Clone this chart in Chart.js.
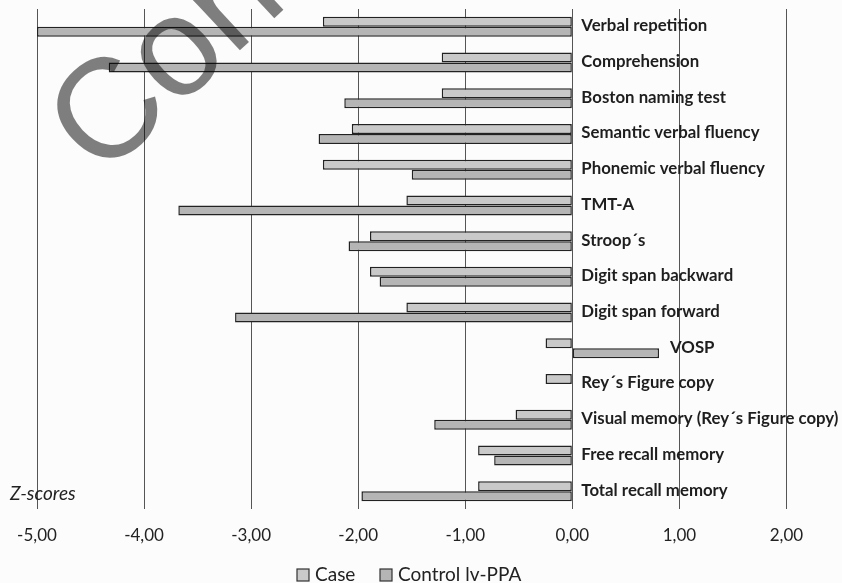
<!DOCTYPE html>
<html>
<head>
<meta charset="utf-8">
<script src="https://cdn.jsdelivr.net/npm/chart.js@4.4.0/dist/chart.umd.min.js"></script>
<style>
  html, body { margin: 0; padding: 0; background: #fcfcfc; }
  #wrap { width: 842px; height: 583px; position: relative; }
</style>
</head>
<body>
<div id="wrap"><canvas id="zChart"></canvas></div>
<script>
/* z-scores chart */

var categories = [
  'Verbal repetition', 'Comprehension', 'Boston naming test', 'Semantic verbal fluency',
  'Phonemic verbal fluency', 'TMT-A', 'Stroop\u00b4s', 'Digit span backward',
  'Digit span forward', 'VOSP', 'Rey\u00b4s Figure copy', 'Visual memory (Rey\u00b4s Figure copy)',
  'Free recall memory', 'Total recall memory'
];
var caseScores = [-2.33, -1.22, -1.22, -2.06, -2.33, -1.55, -1.89, -1.89, -1.55, -0.25, -0.25, -0.53, -0.88, -0.88];
var controlScores = [-5.00, -4.33, -2.13, -2.37, -1.50, -3.68, -2.09, -1.80, -3.15, 0.81, null, -1.29, -0.73, -1.97];
var xTicks = [-5, -4, -3, -2, -1, 0, 1, 2];

var FONT = 'Lato, "Open Sans", sans-serif';

// category names sit right of the zero line (or right of a positive bar)
var categoryLabels = {
  id: 'categoryLabels',
  afterDatasetsDraw: function (chart) {
    var ctx = chart.ctx;
    var xs = chart.scales.x, ys = chart.scales.y;
    ctx.save();
    ctx.font = 'bold 16.8px ' + FONT;
    ctx.fillStyle = '#1e1e1e';
    ctx.textBaseline = 'middle';
    ctx.textAlign = 'left';
    categories.forEach(function (name, i) {
      var maxVal = Math.max(0, caseScores[i] || 0, controlScores[i] || 0);
      var x = xs.getPixelForValue(maxVal) + (maxVal > 0 ? 11 : 9);
      var y = ys.getPixelForValue(i) - 1;
      ctx.fillText(name, x, y);
    });
    ctx.font = 'italic 19px ' + FONT;
    ctx.fillStyle = '#222';
    ctx.fillText('Z-scores', 10, 494);
    ctx.restore();
  },
  afterDraw: function (chart) {
    var ctx = chart.ctx;
    // legend, bottom centre
    var items = [{ x: 297, text: 'Case' }, { x: 380, text: 'Control lv-PPA' }];
    ctx.save();
    ctx.font = '19px ' + FONT;
    ctx.textBaseline = 'middle';
    items.forEach(function (it, i) {
      var ds = chart.data.datasets[i];
      ctx.fillStyle = ds.backgroundColor;
      ctx.fillRect(it.x, 569, 12, 12);
      ctx.strokeStyle = '#333';
      ctx.lineWidth = 1.2;
      ctx.strokeRect(it.x, 569, 12, 12);
      ctx.fillStyle = '#222';
      ctx.fillText(it.text, it.x + 18, 575);
    });
    ctx.restore();

    // watermark
    ctx.save();
    ctx.translate(101, 180);
    ctx.rotate(-43 * Math.PI / 180);
    ctx.font = '141px "Liberation Sans", Arial, sans-serif';
    ctx.fillStyle = 'rgba(0,0,0,0.5)';
    ctx.textBaseline = 'alphabetic';
    ctx.fillText('Confidential', 0, 0);
    ctx.restore();
  }
};

var bgPlugin = {
  id: 'bg',
  beforeDraw: function (chart) {
    var ctx = chart.ctx;
    ctx.save();
    ctx.fillStyle = '#fcfcfc';
    ctx.fillRect(0, 0, chart.width, chart.height);
    ctx.restore();
  }
};

new Chart(document.getElementById('zChart').getContext('2d'), {
  type: 'bar',
  data: {
    labels: categories,
    datasets: [{
      label: 'Case', data: caseScores,
      backgroundColor: '#c9c9c9', borderColor: '#222', borderWidth: 1.5,
      borderSkipped: false
    }, {
      label: 'Control lv-PPA', data: controlScores,
      backgroundColor: '#b5b5b5', borderColor: '#222', borderWidth: 1.5,
      borderSkipped: false
    }]
  },
  options: {
    indexAxis: 'y',
    responsive: true, maintainAspectRatio: false,
    animation: false,
    layout: { padding: { left: 37, right: 2, top: 9, bottom: 21 } },
    datasets: { bar: { categoryPercentage: 0.56, barPercentage: 1.0 } },
    plugins: {
      tooltip: { enabled: false },
      legend: { display: false }
    },
    scales: {
      x: {
        min: -5, max: 2.5,
        afterBuildTicks: function (axis) {
          axis.ticks = xTicks.map(function (v) { return { value: v }; });
        },
        afterFit: function (axis) { axis.height = 53; },
        grid: { color: '#555', lineWidth: 1, drawTicks: false },
        border: { display: false },
        ticks: {
          color: '#222', font: { family: FONT, size: 17 }, padding: 16, maxRotation: 0,
          callback: function (v) { return v.toFixed(2).replace('.', ','); }
        }
      },
      y: { display: false }
    }
  },
  plugins: [bgPlugin, categoryLabels]
});
</script>
</body>
</html>
